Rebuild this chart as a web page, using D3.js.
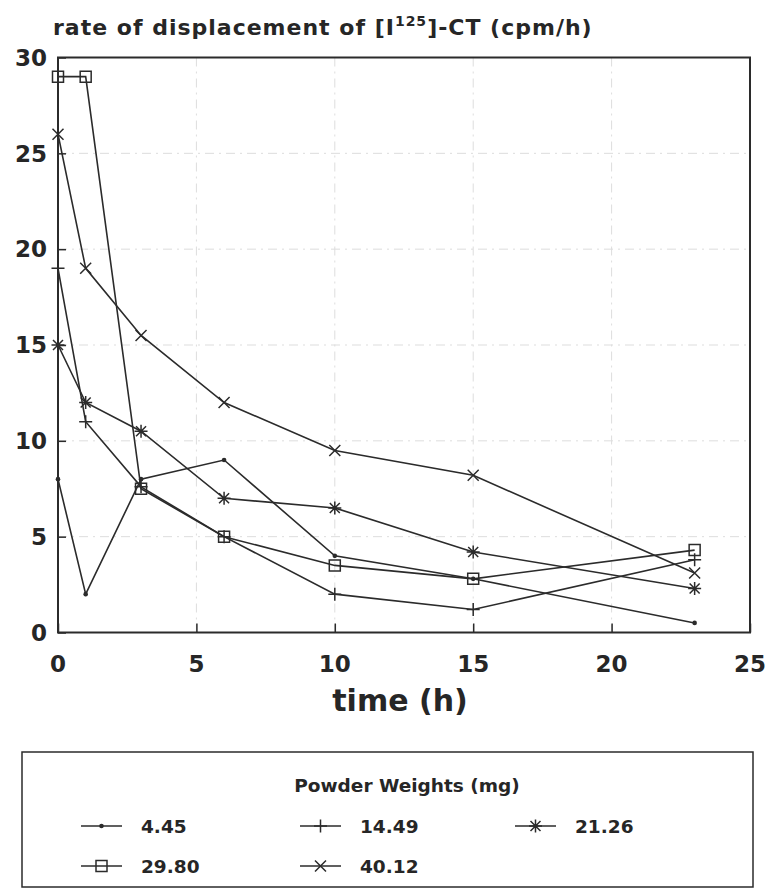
<!DOCTYPE html>
<html>
<head>
<meta charset="utf-8">
<script src="https://cdn.jsdelivr.net/npm/d3@7"></script>
<style>
  html, body { margin: 0; padding: 0; background: #fff; }
  svg { display: block; }
  text { font-family: "DejaVu Sans", sans-serif; font-weight: bold; fill: #262626; }
</style>
</head>
<body>
<svg id="chart" width="771" height="889"></svg>
<script>
// ---- data ----
const times = [0, 1, 3, 6, 10, 15, 23];
const seriesNames = ["4.45", "14.49", "21.26", "29.80", "40.12"];
const s445  = [8, 2, 8, 9, 4, 2.8, 0.5];
const s1449 = [19, 11, 7.6, 5, 2, 1.2, 3.8];
const s2126 = [15, 12, 10.5, 7, 6.5, 4.2, 2.3];
const s2980 = [29, 29, 7.5, 5, 3.5, 2.8, 4.3];
const s4012 = [26, 19, 15.5, 12, 9.5, 8.2, 3.1];
const xTicks = [0, 5, 10, 15, 20, 25];
const yTicks = [0, 5, 10, 15, 20, 25, 30];
const titleText = "rate of displacement of [I";
const titleSup = "125";
const titleEnd = "]-CT (cpm/h)";
const xLabel = "time (h)";
const legendTitle = "Powder Weights (mg)";

const seriesValues = [s445, s1449, s2126, s2980, s4012];
const markerKinds = ["dot", "plus", "asterisk", "square", "cross"];

const ink = "#2b2b2b";
const svg = d3.select("#chart");

const x = d3.scaleLinear().domain([0, 25]).range([58, 750]);
const y = d3.scaleLinear().domain([0, 30]).range([632.5, 57.5]);

// grid (very faint, dash-dot)
const grid = svg.append("g");
grid.selectAll("line.gx").data(xTicks.slice(1, -1)).join("line")
  .attr("x1", d => x(d)).attr("x2", d => x(d))
  .attr("y1", y(30)).attr("y2", y(0))
  .attr("stroke", "#dddddd").attr("stroke-width", 1)
  .attr("stroke-dasharray", "9,5,2,5");
grid.selectAll("line.gy").data(yTicks.slice(1, -1)).join("line")
  .attr("x1", x(0)).attr("x2", x(25))
  .attr("y1", d => y(d)).attr("y2", d => y(d))
  .attr("stroke", "#dddddd").attr("stroke-width", 1)
  .attr("stroke-dasharray", "9,5,2,5");

// axes (inner ticks)
const xAxis = d3.axisBottom(x).tickValues(xTicks).tickSize(-9).tickFormat("");
const yAxis = d3.axisLeft(y).tickValues(yTicks).tickSize(-8).tickFormat("");
const gx = svg.append("g").attr("transform", `translate(0,${y(0)})`).call(xAxis);
const gy = svg.append("g").attr("transform", `translate(${x(0)},0)`).call(yAxis);
[gx, gy].forEach(g => {
  g.select(".domain").remove();
  g.selectAll(".tick line").attr("stroke", ink).attr("stroke-width", 1.5);
});

// frame
svg.append("rect")
  .attr("x", x(0)).attr("y", y(30))
  .attr("width", x(25) - x(0)).attr("height", y(0) - y(30))
  .attr("fill", "none").attr("stroke", ink).attr("stroke-width", 2);

// tick labels
svg.append("g").selectAll("text").data(xTicks).join("text")
  .attr("x", d => x(d)).attr("y", 672)
  .attr("text-anchor", "middle").attr("font-size", 23)
  .text(d => d);
svg.append("g").selectAll("text").data(yTicks).join("text")
  .attr("x", 47).attr("y", d => y(d)).attr("dy", "0.36em")
  .attr("text-anchor", "end").attr("font-size", 23)
  .text(d => d);

// axis label
svg.append("text").attr("x", 400).attr("y", 711)
  .attr("text-anchor", "middle").attr("font-size", 30)
  .text(xLabel);

// title
const t = svg.append("text").attr("x", 53).attr("y", 35)
  .attr("font-size", 22).attr("letter-spacing", 1);
t.append("tspan").text(titleText);
t.append("tspan").attr("font-size", 14).attr("dy", -9).text(titleSup);
t.append("tspan").attr("dy", 9).text(titleEnd);

// markers
function marker(g, kind, cx, cy) {
  if (kind === "dot") {
    g.append("circle").attr("cx", cx).attr("cy", cy).attr("r", 2.3).attr("fill", ink);
    return;
  }
  let d;
  if (kind === "square") d = "M-5.5,-5.5H5.5V5.5H-5.5Z";
  if (kind === "plus") d = "M-6.5,0H6.5M0,-6.5V6.5";
  if (kind === "cross") d = "M-5.5,-5.5L5.5,5.5M-5.5,5.5L5.5,-5.5";
  if (kind === "asterisk") d = "M-6.5,0H6.5M0,-6.5V6.5M-5,-5L5,5M-5,5L5,-5";
  g.append("path").attr("d", d).attr("transform", `translate(${cx},${cy})`)
    .attr("fill", "none").attr("stroke", ink).attr("stroke-width", 1.5);
}

const line = d3.line().x(d => x(d[0])).y(d => y(d[1]));
const plot = svg.append("g");
seriesValues.forEach((vals, i) => {
  const pts = times.map((tt, j) => [tt, vals[j]]);
  plot.append("path").datum(pts).attr("d", line)
    .attr("fill", "none").attr("stroke", ink).attr("stroke-width", 1.6);
  pts.forEach(p => marker(plot, markerKinds[i], x(p[0]), y(p[1])));
});

// legend
const lg = svg.append("g");
lg.append("rect").attr("x", 22).attr("y", 752).attr("width", 731).attr("height", 135)
  .attr("fill", "none").attr("stroke", ink).attr("stroke-width", 1.5);
lg.append("text").attr("x", 407).attr("y", 792).attr("text-anchor", "middle")
  .attr("font-size", 18.5).text(legendTitle);
const legendOrder = [0, 1, 2, 3, 4];
const colX = [81, 300, 515];
const rowY = [826, 866];
legendOrder.forEach((si, k) => {
  const col = k % 3, row = Math.floor(k / 3);
  const x0 = colX[col], yy = rowY[row];
  lg.append("line").attr("x1", x0).attr("x2", x0 + 41).attr("y1", yy).attr("y2", yy)
    .attr("stroke", ink).attr("stroke-width", 1.5);
  marker(lg, markerKinds[si], x0 + 20.5, yy);
  lg.append("text").attr("x", x0 + 60).attr("y", yy + 7).attr("font-size", 18.5)
    .text(seriesNames[si]);
});
</script>
</body>
</html>
